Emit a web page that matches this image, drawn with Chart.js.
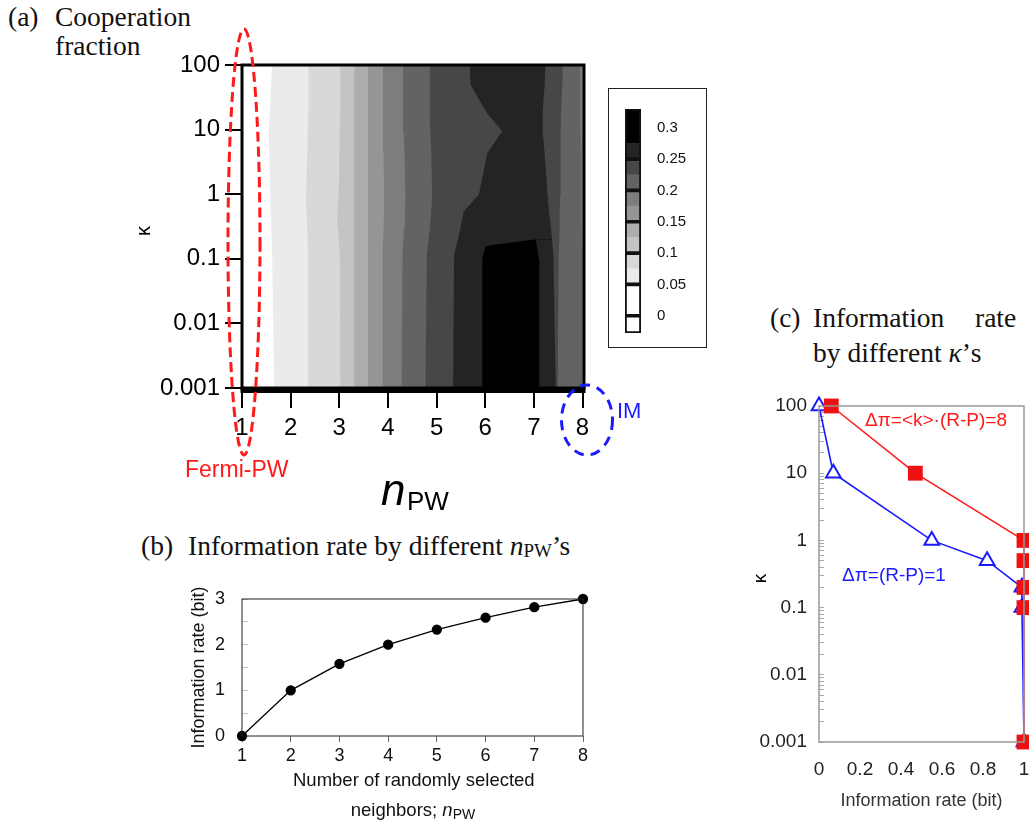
<!DOCTYPE html>
<html><head><meta charset="utf-8">
<script src="https://cdn.jsdelivr.net/npm/chart.js@4.4.0/dist/chart.umd.min.js"></script>
<style>
html,body{margin:0;padding:0;width:1029px;height:830px;overflow:hidden;background:#fff;}
#wrap{position:relative;width:1029px;height:830px;overflow:hidden;}
.abs{position:absolute;white-space:nowrap;line-height:1;}
.serif{font-family:"Liberation Serif","Times New Roman",serif;color:#111;font-size:27.5px;}
.sans{font-family:"Liberation Sans",Arial,sans-serif;}
canvas{position:absolute;}
</style></head><body><div id="wrap">

<div class="abs serif" style="left:8px;top:3px;">(a)</div>
<div class="abs serif" style="left:55px;top:3px;">Cooperation</div>
<div class="abs serif" style="left:55px;top:32px;">fraction</div>

<div class="abs serif" style="left:141px;top:532px;">(b)</div>
<div class="abs serif" style="left:188px;top:532px;">Information rate by different <i>n</i><span style="font-size:19px;position:relative;top:2px;">PW</span>’s</div>

<div class="abs serif" style="left:770px;top:304px;">(c)</div>
<div class="abs serif" style="left:813px;top:304px;">Information</div>
<div class="abs serif" style="left:975px;top:304px;">rate</div>
<div class="abs serif" style="left:813px;top:339px;">by different <i>κ</i>’s</div>

<canvas id="cA" width="520" height="450" style="left:100px;top:40px;"></canvas>
<div class="abs" style="left:608px;top:88px;width:97px;height:258px;border:1px solid #222;"></div>
<canvas id="cLeg" width="92" height="248" style="left:611px;top:95px;"></canvas>
<canvas id="cB" width="440" height="250" style="left:160px;top:580px;"></canvas>
<canvas id="cC" width="420" height="440" style="left:700px;top:380px;"></canvas>

<div class="abs sans" style="left:138px;top:221px;font-size:20px;transform:rotate(-90deg);">κ</div>
<div class="abs sans" style="left:755px;top:569px;font-size:19px;transform:rotate(-90deg);">κ</div>

<div class="abs sans" style="left:381px;top:468px;font-size:44px;font-style:italic;">n</div>
<div class="abs sans" style="left:407px;top:488px;font-size:26px;">PW</div>

<div class="abs sans" style="left:185px;top:458px;font-size:23px;color:#ff1a1a;">Fermi-PW</div>
<div class="abs sans" style="left:617px;top:400px;font-size:22px;color:#1a1aff;">IM</div>

<div class="abs sans" style="left:293px;top:771px;font-size:18.5px;color:#111;width:240px;text-align:center;">Number of randomly selected</div>
<div class="abs sans" style="left:293px;top:801px;font-size:18.5px;color:#111;width:240px;text-align:center;">neighbors; <i>n</i><span style="font-size:14px;position:relative;top:3px;">PW</span></div>

<div class="abs sans" style="left:865px;top:410px;font-size:19px;color:#ff1a1a;">Δπ=&lt;k&gt;·(R-P)=8</div>
<div class="abs sans" style="left:842px;top:565px;font-size:19px;color:#1a1aff;">Δπ=(R-P)=1</div>

<svg class="abs" style="left:0;top:0;" width="1029" height="830">
  <ellipse cx="244" cy="242" rx="16" ry="213" fill="none" stroke="#ff1a1a" stroke-width="3" stroke-dasharray="10 5"/>
  <ellipse cx="587" cy="420" rx="25.5" ry="35" fill="none" stroke="#1a1aff" stroke-width="3" stroke-dasharray="10 7"/>
</svg>
</div>
<script>
// ---------- data ----------
const nValues = [1, 2, 3, 4, 5, 6, 7, 8];
const kappaTicks = [0.001, 0.01, 0.1, 1, 10, 100];

// (a) contour level boundaries: n position of each boundary at these kappa values
const contourKappa = [0.001, 0.115, 0.3, 0.54, 1, 4.3, 9.5, 17.8, 49, 100];
const edge1  = [1.66, 1.62, 1.60, 1.59, 1.58, 1.56, 1.55, 1.57, 1.60, 1.62];
const edge2  = [2.37, 2.36, 2.34, 2.33, 2.32, 2.34, 2.35, 2.36, 2.37, 2.37];
const edge3  = [3.02, 3.01, 2.97, 2.96, 2.99, 3.00, 3.01, 3.02, 3.02, 3.02];
const edge4  = [3.31, 3.31, 3.31, 3.31, 3.31, 3.31, 3.31, 3.31, 3.31, 3.31];
const edge5  = [3.59, 3.59, 3.59, 3.59, 3.59, 3.59, 3.59, 3.59, 3.59, 3.59];
const edge6  = [3.88, 3.89, 3.91, 3.92, 3.92, 3.91, 3.90, 3.90, 3.90, 3.90];
const edge7  = [4.28, 4.30, 4.33, 4.35, 4.36, 4.34, 4.32, 4.31, 4.31, 4.31];
const edge8  = [4.77, 4.80, 4.86, 4.89, 4.91, 4.89, 4.87, 4.86, 4.86, 4.86];
const edge9  = [5.34, 5.36, 5.49, 5.56, 5.87, 6.04, 6.35, 6.04, 5.70, 5.68];
const peakKappa = [0.001, 0.102, 0.158, 0.2];
const peakLeftN = [5.94, 5.94, 6.01, 7.04];
const peakRightKappa = [0.001, 0.09, 0.2];
const peakRightN = [7.11, 7.11, 7.04];
const edge10 = [7.45, 7.40, 7.35, 7.31, 7.28, 7.22, 7.18, 7.18, 7.22, 7.24];
const edge11 = [7.49, 7.51, 7.53, 7.53, 7.54, 7.55, 7.55, 7.56, 7.58, 7.59];
const edge12 = [8.00, 7.99, 7.98, 7.98, 7.97, 7.97, 7.96, 7.96, 7.95, 7.95];

// colour bar levels
const legendLevels = [-0.0275, 0, 0.05, 0.075, 0.1, 0.125, 0.15, 0.175, 0.2, 0.225, 0.25, 0.275, 0.33];
const legendFrames = [-0.0275, 0, 0.05, 0.1, 0.15, 0.2, 0.25, 0.33];
const legendTicks = [0, 0.05, 0.1, 0.15, 0.2, 0.25, 0.3];

// (b)
const infoRateByN = [0, 1.0, 1.58, 2.0, 2.33, 2.59, 2.82, 3.0];
const infoTicksB = [0, 0.5, 1, 1.5, 2, 2.5, 3];

// (c)
const kappaRed  = [100, 10, 1, 0.5, 0.2, 0.1, 0.001];
const infoRed   = [0.06, 0.47, 1.0, 1.0, 1.0, 1.0, 1.0];
const kappaBlue = [100, 10, 1, 0.5, 0.2, 0.1, 0.001];
const infoBlue  = [0.0, 0.07, 0.55, 0.82, 0.99, 0.99, 1.0];
const infoTicksC = [0, 0.2, 0.4, 0.6, 0.8, 1];

// ---------- styles ----------
const SANS = '"Liberation Sans", Arial, sans-serif';
const grays = ['#ebebeb','#d8d8d8','#c4c4c4','#adadad','#959595','#7d7d7d','#636363','#474747','#242424'];
const legendColors = ['#ffffff','#ffffff','#ebebeb','#d8d8d8','#c4c4c4','#adadad','#959595','#7d7d7d','#636363','#474747','#242424','#000000'];
const N_MAX = 8.03;

const framePlugin = {
  id: 'frame',
  afterDatasetsDraw(chart, args, o) {
    const {ctx, chartArea: a} = chart;
    ctx.save();
    ctx.strokeStyle = o.color; ctx.lineWidth = o.width;
    ctx.strokeRect(a.left, a.top, a.right - a.left, a.bottom - a.top);
    if (o.bottomWidth) {
      ctx.lineWidth = o.bottomWidth;
      ctx.beginPath(); ctx.moveTo(a.left - 1.5, a.bottom + 2); ctx.lineTo(a.right + 1.5, a.bottom + 2); ctx.stroke();
    }
    ctx.restore();
  }
};

const base = { responsive: false, animation: false, devicePixelRatio: 1 };
const noPlug = { legend: { display: false }, tooltip: { enabled: false } };
function fixV(w) { return s => { s.width = w; s.paddingTop = 0; s.paddingBottom = 0; }; }
function fixH(h) { return s => { s.height = h; s.paddingLeft = 0; s.paddingRight = 0; }; }

// ---------- (a) contour ----------
function edgeSet(nArr, kArr, color, idx) {
  return {
    data: kArr.map((k, j) => ({ x: nArr[j], y: k })),
    backgroundColor: color, borderColor: color, borderWidth: 0,
    pointRadius: 0, fill: { value: N_MAX }, order: 100 - idx, tension: 0
  };
}
const edges = [edge1, edge2, edge3, edge4, edge5, edge6, edge7, edge8, edge9];
const dsA = edges.map((e, i) => edgeSet(e, contourKappa, grays[i], i));
dsA.push(edgeSet(peakLeftN, peakKappa, '#000000', 9));
dsA.push(edgeSet(peakRightN, peakRightKappa, '#242424', 10));
dsA.push(edgeSet(edge10, contourKappa, '#474747', 11));
dsA.push(edgeSet(edge11, contourKappa, '#636363', 12));
dsA.push(edgeSet(edge12, contourKappa, '#7d7d7d', 13));

new Chart(document.getElementById('cA'), {
  type: 'line',
  data: { datasets: dsA },
  options: Object.assign({}, base, {
    indexAxis: 'y',
    layout: { padding: { left: 0, right: 36, top: 25, bottom: 0 } },
    plugins: Object.assign({}, noPlug, { frame: { color: '#000', width: 3, bottomWidth: 6 } }),
    scales: {
      x: {
        type: 'linear', position: 'bottom', min: 1, max: N_MAX,
        afterBuildTicks: s => { s.ticks = nValues.map(v => ({ value: v })); },
        afterFit: fixH(102),
        grid: { drawOnChartArea: false, drawTicks: true, tickLength: 20, color: '#000', lineWidth: 2 },
        border: { display: false },
        ticks: { font: { family: SANS, size: 24 }, color: '#000', padding: 6, maxRotation: 0, autoSkip: false }
      },
      y: {
        type: 'logarithmic', position: 'left', min: 0.001, max: 100,
        afterBuildTicks: s => { s.ticks = kappaTicks.map(v => ({ value: v })); },
        afterFit: fixV(142),
        grid: { drawOnChartArea: false, drawTicks: true, tickLength: 17, color: '#000', lineWidth: 2 },
        border: { display: false },
        ticks: { font: { family: SANS, size: 24 }, color: '#000', padding: 5, autoSkip: false, callback: v => String(v) }
      }
    }
  }),
  plugins: [framePlugin]
});

// ---------- colour bar ----------
const dsLeg = [];
for (let i = 0; i < legendColors.length; i++) {
  dsLeg.push({ data: [[legendLevels[i], legendLevels[i + 1]]], backgroundColor: legendColors[i], borderWidth: 0,
    barPercentage: 1, categoryPercentage: 1, grouped: false, order: 10 });
}
for (let i = 0; i < legendFrames.length - 1; i++) {
  dsLeg.push({ data: [[legendFrames[i], legendFrames[i + 1]]], backgroundColor: 'rgba(0,0,0,0)', borderColor: '#111',
    borderWidth: 1.5, borderSkipped: false, barPercentage: 1, categoryPercentage: 1, grouped: false, order: 0 });
}
new Chart(document.getElementById('cLeg'), {
  type: 'bar',
  data: { labels: [''], datasets: dsLeg },
  options: Object.assign({}, base, {
    layout: { padding: { left: 14, right: 0, top: 14, bottom: 10 } },
    plugins: noPlug,
    scales: {
      x: { display: false },
      y: {
        position: 'right', min: -0.0275, max: 0.33,
        afterBuildTicks: s => { s.ticks = legendTicks.map(v => ({ value: v })); },
        afterFit: fixV(62),
        grid: { display: false, drawTicks: false },
        border: { display: false },
        ticks: { font: { family: SANS, size: 15 }, color: '#111', padding: 16, autoSkip: false, callback: v => String(v) }
      }
    }
  })
});

// ---------- (b) ----------
new Chart(document.getElementById('cB'), {
  type: 'line',
  data: { datasets: [{
    data: nValues.map((n, i) => ({ x: n, y: infoRateByN[i] })),
    borderColor: '#000', borderWidth: 1.3, pointRadius: 4.5,
    pointBackgroundColor: '#000', pointBorderColor: '#000', tension: 0, clip: false
  }] },
  options: Object.assign({}, base, {
    layout: { padding: { left: 0, right: 17, top: 19, bottom: 0 } },
    plugins: Object.assign({}, noPlug, { frame: { color: '#222', width: 1 } }),
    scales: {
      x: {
        type: 'linear', min: 1, max: 8,
        afterBuildTicks: s => { s.ticks = nValues.map(v => ({ value: v })); },
        afterFit: fixH(94),
        grid: { drawOnChartArea: false, drawTicks: true, tickLength: 6, color: '#666' },
        border: { display: false },
        ticks: { font: { family: SANS, size: 18 }, color: '#111', padding: 3, maxRotation: 0, autoSkip: false }
      },
      y: {
        type: 'linear', min: 0, max: 3,
        afterBuildTicks: s => { s.ticks = infoTicksB.map(v => ({ value: v })); },
        afterFit: fixV(82),
        grid: { drawOnChartArea: false, drawTicks: true, tickLength: -6, color: '#c4c4c4' },
        border: { display: false },
        ticks: { font: { family: SANS, size: 18 }, color: '#111', padding: 23, autoSkip: false,
          callback: v => Number.isInteger(v) ? String(v) : '' },
        title: { display: true, text: 'Information rate (bit)', font: { family: SANS, size: 18 }, color: '#111',
          padding: { top: 28, bottom: 0 } }
      }
    }
  }),
  plugins: [framePlugin]
});

// ---------- (c) ----------
const logTicksC = [];
kappaTicks.forEach(d => {
  if (d === 100) { logTicksC.push(d); return; }
  for (let m = 1; m <= 9; m++) logTicksC.push(m === 1 ? d : m * d);
});
new Chart(document.getElementById('cC'), {
  type: 'line',
  data: { datasets: [
    { data: infoRed.map((x, i) => ({ x, y: kappaRed[i] })), borderColor: '#ff1a1a', borderWidth: 1.6,
      pointStyle: 'rect', pointRadius: 10.5, pointBackgroundColor: '#ee1111', pointBorderColor: '#ee1111',
      pointBorderWidth: 0, tension: 0, clip: false },
    { data: infoBlue.map((x, i) => ({ x, y: kappaBlue[i] })), borderColor: '#1a1aff', borderWidth: 1.6,
      pointStyle: 'triangle', pointRadius: 8.5, pointBackgroundColor: '#ffffff', pointBorderColor: '#1a1aff',
      pointBorderWidth: 2, tension: 0, clip: false }
  ] },
  options: Object.assign({}, base, {
    layout: { padding: { left: 0, right: 96, top: 26, bottom: 0 } },
    plugins: Object.assign({}, noPlug, { frame: { color: '#999', width: 1.5 } }),
    scales: {
      x: {
        type: 'linear', min: 0, max: 1,
        afterBuildTicks: s => { s.ticks = infoTicksC.map(v => ({ value: v })); },
        afterFit: fixH(78),
        grid: { display: false, drawTicks: false },
        border: { display: false },
        ticks: { font: { family: SANS, size: 19 }, color: '#222', padding: 16, maxRotation: 0, autoSkip: false,
          callback: v => String(v) },
        title: { display: true, text: 'Information rate (bit)', font: { family: SANS, size: 18 }, color: '#333',
          padding: { top: 0, bottom: 8 } }
      },
      y: {
        type: 'logarithmic', min: 0.001, max: 100,
        afterBuildTicks: s => { s.ticks = logTicksC.map(v => ({ value: v })); },
        afterFit: fixV(119),
        grid: { drawOnChartArea: false, drawTicks: true, tickLength: -5, color: '#aaa' },
        border: { display: false },
        ticks: { font: { family: SANS, size: 19 }, color: '#222', padding: 17, autoSkip: false,
          callback: v => kappaTicks.includes(v) ? String(v) : '' }
      }
    }
  }),
  plugins: [framePlugin]
});
</script>
</body></html>
